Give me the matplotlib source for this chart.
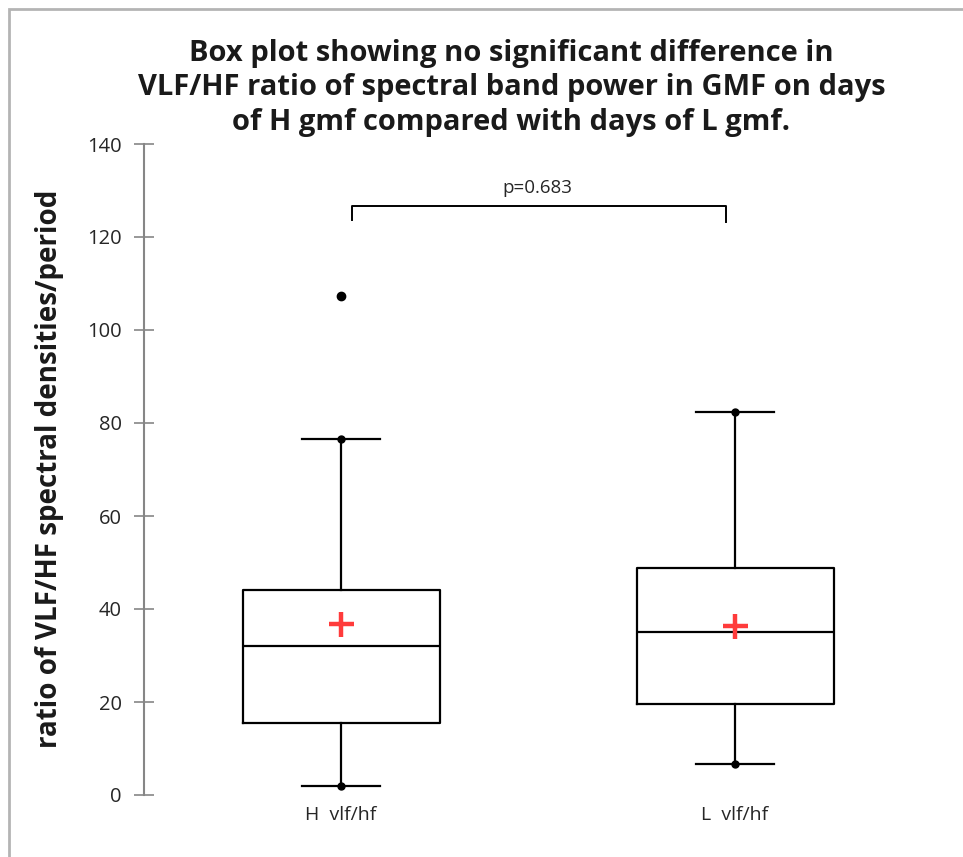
import matplotlib
matplotlib.use("Agg")
import matplotlib.pyplot as plt
from matplotlib.patches import Rectangle

categories = ["H  vlf/hf", "L  vlf/hf"]
q1 = [15.5, 19.6]
median = [32.0, 35.0]
q3 = [44.1, 48.8]
whisker_low = [1.9, 6.7]
whisker_high = [76.6, 82.4]
means = [36.8, 36.3]
outliers = [[107.3], []]
p_text = "p=0.683"
title = ("Box plot showing no significant difference in\n"
         "VLF/HF ratio of spectral band power in GMF on days\n"
         "of H gmf compared with days of L gmf.")
ylabel = "ratio of VLF/HF spectral densities/period"
yticks = [0, 20, 40, 60, 80, 100, 120, 140]

plt.rcParams['font.family'] = ['Open Sans', 'DejaVu Sans']

fig = plt.figure(figsize=(9.63, 8.57), dpi=100)
W, H = 963, 857
ax = fig.add_axes([144 / W, 1 - 795 / H, (932 - 144) / W, (795 - 144) / H])

# figure border (left/top visible)
fig.add_artist(Rectangle((9 / W, -0.1), 1.2, 1 - 9 / H + 0.1, transform=fig.transFigure,
                         fill=False, edgecolor="#b4b4b4", linewidth=2))

positions = [1, 2]
stats = []
for i in range(len(categories)):
    stats.append(dict(label=categories[i], q1=q1[i], med=median[i], q3=q3[i],
                      whislo=whisker_low[i], whishi=whisker_high[i],
                      mean=means[i], fliers=outliers[i]))

ax.bxp(stats, positions=positions, widths=0.5, capwidths=0.2, showmeans=True,
       boxprops=dict(color="black", linewidth=1.6),
       medianprops=dict(color="black", linewidth=1.6),
       whiskerprops=dict(color="black", linewidth=1.6),
       capprops=dict(color="black", linewidth=1.6),
       meanprops=dict(marker="+", markeredgecolor="#ff3b3b", markersize=18, markeredgewidth=3.2),
       flierprops=dict(marker="o", markerfacecolor="black", markeredgecolor="black", markersize=6))

# dots at whisker ends
for i, p in enumerate(positions):
    ax.plot([p, p], [whisker_low[i], whisker_high[i]], linestyle="none", marker="o",
            markersize=5, color="black", zorder=4)

# significance bracket
ax.plot([1.028, 1.028, 1.977, 1.977], [123.6, 126.7, 126.7, 123.2], color="black", linewidth=1.4,
        clip_on=False)
ax.text(1.497, 128.6, p_text, ha="center", va="bottom", fontsize=13.5, color="#262626")

ax.set_xlim(0.5, 2.5)
ax.set_ylim(0, 140)
ax.set_yticks(yticks)
ax.set_xticks(positions)
ax.set_xticklabels(categories)

for s in ["top", "right", "bottom"]:
    ax.spines[s].set_visible(False)
ax.spines["left"].set_color("#868686")
ax.spines["left"].set_linewidth(1.5)
ax.tick_params(axis="y", direction="inout", length=14, width=1.2, color="#868686",
               labelsize=14.5, labelcolor="#262626", pad=9)
ax.tick_params(axis="x", length=0, labelsize=14, labelcolor="#262626", pad=8)

fig.text(0.531, 1 - 88 / H, title, ha="center", va="center", fontsize=21, fontweight="bold",
         linespacing=1.27, color="#1a1a1a")
fig.text(50 / W, 1 - 469 / H, ylabel, ha="center", va="center", rotation=90,
         fontsize=20, fontweight="bold", color="#1a1a1a")

fig.savefig("out.png", dpi=100)
